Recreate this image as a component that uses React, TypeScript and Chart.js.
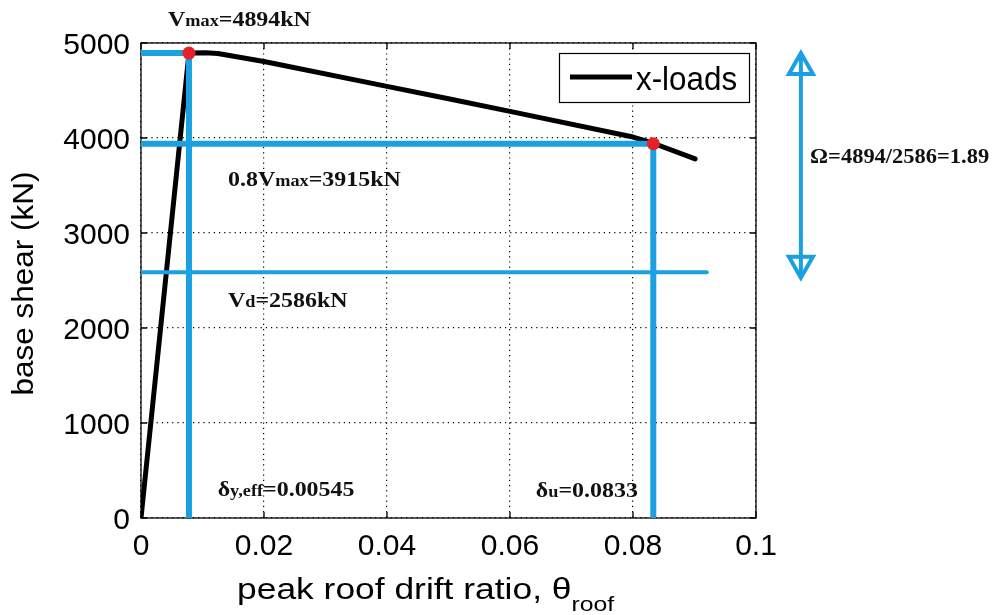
import React, { useEffect, useRef } from "react";
import { Chart, registerables } from "chart.js";

Chart.register(...registerables);

// ---- data ----
const driftX = [0, 0.0078, 0.0105, 0.0125, 0.02, 0.04, 0.05, 0.06, 0.08, 0.0833, 0.0901];
const shearY = [0, 4894, 4898, 4890, 4806, 4543, 4413, 4280, 4010, 3945, 3780];

const xTicks = [0, 0.02, 0.04, 0.06, 0.08, 0.1];
const yTicks = [0, 1000, 2000, 3000, 4000, 5000];

const vMax = 4894;
const v08 = 3940;
const vD = 2586;
const dyEff = 0.0078;
const dU = 0.0833;
const vdLineEnd = 0.092;

const markX = [dyEff, dU];
const markY = [vMax, v08];

const arrowX = [0.1073, 0.1073];
const arrowY = [4894, 2530];

const seriesLabel = "x-loads";

// annotation texts: [text, isSubscript]
const annoTexts: [string, boolean][][] = [
  [["V", false], ["max", true], ["=4894kN", false]],
  [["0.8V", false], ["max", true], ["=3915kN", false]],
  [["V", false], ["d", true], ["=2586kN", false]],
  [["δ", false], ["y,eff", true], ["=0.00545", false]],
  [["δ", false], ["u", true], ["=0.0833", false]],
  [["Ω=4894/2586=1.89", false]],
];
// anchor (left, baseline) in data units
const annoX = [0.0044, 0.01415, 0.01415, 0.01247, 0.0642, 0.1088];
const annoY = [5182, 3498, 2225, 227, 222, 3740];
const annoStretch = [1.14, 1.14, 1.14, 1.14, 1.14, 1.07];

const xTitleMain = "peak roof drift ratio, θ";
const xTitleSub = "roof";
const yTitle = "base shear (kN)";

const BLUE = "#1ba1e2";
const RED = "#e8202a";
const SANS = '"Liberation Sans", Arial, sans-serif';
const SERIF = '"Liberation Serif", "Times New Roman", serif';

function drawParts(ctx: CanvasRenderingContext2D, parts: { t: string; font: string; dy: number }[], x: number, y: number, sx: number) {
  ctx.save();
  ctx.translate(x, y);
  ctx.scale(sx, 1);
  ctx.textAlign = "left";
  ctx.textBaseline = "alphabetic";
  let cx = 0;
  for (const p of parts) {
    ctx.font = p.font;
    ctx.fillText(p.t, cx, p.dy);
    cx += ctx.measureText(p.t).width;
  }
  ctx.restore();
}

const decorPlugin = {
  id: "decor",
  beforeDatasetsDraw(chart: any) {
    const { ctx, chartArea: a, scales } = chart;
    ctx.save();
    ctx.strokeStyle = "#000";
    ctx.lineWidth = 1.3;
    ctx.setLineDash([]);
    ctx.strokeRect(a.left, a.top, a.right - a.left, a.bottom - a.top);
    const tl = 6;
    ctx.beginPath();
    for (const v of xTicks) {
      const px = scales.x.getPixelForValue(v);
      ctx.moveTo(px, a.bottom);
      ctx.lineTo(px, a.bottom - tl);
      ctx.moveTo(px, a.top);
      ctx.lineTo(px, a.top + tl);
    }
    for (const v of yTicks) {
      const py = scales.y.getPixelForValue(v);
      ctx.moveTo(a.left, py);
      ctx.lineTo(a.left + tl, py);
      ctx.moveTo(a.right, py);
      ctx.lineTo(a.right - tl, py);
    }
    ctx.stroke();
    ctx.restore();
  },
  afterDatasetsDraw(chart: any) {
    const { ctx, chartArea: a, scales } = chart;
    const xs = scales.x;
    const ys = scales.y;
    ctx.save();
    // annotations
    ctx.fillStyle = "#111";
    annoTexts.forEach((parts, i) => {
      const px = xs.getPixelForValue(annoX[i]);
      const py = ys.getPixelForValue(annoY[i]);
      drawParts(
        ctx,
        parts.map(([t, sub]) => ({ t, font: sub ? `bold 16px ${SERIF}` : `bold 21px ${SERIF}`, dy: 0 })),
        px,
        py,
        annoStretch[i]
      );
    });

    // double arrow
    const ax = xs.getPixelForValue(arrowX[0]);
    const ayTop = ys.getPixelForValue(arrowY[0]);
    const ayBot = ys.getPixelForValue(arrowY[1]);
    const hl = 21;
    const hw = 12;
    ctx.strokeStyle = BLUE;
    ctx.lineWidth = 4;
    ctx.lineJoin = "miter";
    ctx.beginPath();
    ctx.moveTo(ax, ayTop + 2);
    ctx.lineTo(ax, ayBot - 2);
    ctx.stroke();
    ctx.beginPath();
    ctx.moveTo(ax, ayTop);
    ctx.lineTo(ax - hw, ayTop + hl);
    ctx.lineTo(ax + hw, ayTop + hl);
    ctx.closePath();
    ctx.stroke();
    ctx.beginPath();
    ctx.moveTo(ax, ayBot);
    ctx.lineTo(ax - hw, ayBot - hl);
    ctx.lineTo(ax + hw, ayBot - hl);
    ctx.closePath();
    ctx.stroke();

    // legend
    const lw = 190;
    const lh = 49;
    const lx = a.right - 7 - lw;
    const ly = a.top + 10;
    ctx.fillStyle = "#fff";
    ctx.fillRect(lx, ly, lw, lh);
    ctx.strokeStyle = "#000";
    ctx.lineWidth = 1.2;
    ctx.strokeRect(lx + 0.5, ly + 0.5, lw, lh);
    ctx.lineWidth = 5;
    ctx.beginPath();
    ctx.moveTo(lx + 11, ly + 24);
    ctx.lineTo(lx + 73, ly + 24);
    ctx.stroke();
    ctx.fillStyle = "#000";
    drawParts(ctx, [{ t: seriesLabel, font: `33px ${SANS}`, dy: 0 }], lx + 77, ly + 37, 0.95);
    ctx.restore();
  },
  afterDraw(chart: any) {
    const { ctx, chartArea: a } = chart;
    ctx.save();
    ctx.fillStyle = "#000";
    // x title
    drawParts(
      ctx,
      [
        { t: xTitleMain, font: `30px ${SANS}`, dy: 0 },
        { t: xTitleSub, font: `21px ${SANS}`, dy: 12 },
      ],
      237,
      a.bottom + 81,
      1.18
    );
    // y title
    ctx.font = `30px ${SANS}`;
    const w = ctx.measureText(yTitle).width * 1.05;
    ctx.translate(33, (a.top + a.bottom) / 2 + 3);
    ctx.rotate(-Math.PI / 2);
    drawParts(ctx, [{ t: yTitle, font: `30px ${SANS}`, dy: 0 }], -w / 2, 0, 1.05);
    ctx.restore();
  },
};

export default function App() {
  const ref = useRef<HTMLCanvasElement | null>(null);
  useEffect(() => {
    if (!ref.current) return;
    const hLine = (y: number, x0: number, x1: number, w: number, label: string) => ({
      label,
      data: [
        { x: x0, y },
        { x: x1, y },
      ],
      showLine: true,
      borderColor: BLUE,
      borderWidth: w,
      pointRadius: 0,
      borderCapStyle: "round",
      order: 2,
    });
    const vLine = (x: number, y0: number, y1: number, w: number, label: string) => ({
      label,
      data: [
        { x, y: y0 },
        { x, y: y1 },
      ],
      showLine: true,
      borderColor: BLUE,
      borderWidth: w,
      pointRadius: 0,
      borderCapStyle: "round",
      order: 2,
    });
    const chart = new Chart(ref.current, {
      type: "scatter",
      data: {
        datasets: [
          {
            label: seriesLabel,
            data: driftX.map((x, i) => ({ x, y: shearY[i] })),
            showLine: true,
            borderColor: "#000",
            borderWidth: 5,
            pointRadius: 0,
            borderJoinStyle: "round",
            borderCapStyle: "round",
            order: 3,
          } as any,
          hLine(vMax, 0, dyEff, 6, "Vmax"),
          vLine(dyEff, 0, vMax, 6, "dy"),
          hLine(v08, 0, dU, 6, "0.8Vmax"),
          vLine(dU, 0, v08, 6, "du"),
          hLine(vD, 0, vdLineEnd, 4, "Vd"),
          {
            label: "marks",
            data: markX.map((x, i) => ({ x, y: markY[i] })),
            showLine: false,
            pointRadius: 6.5,
            pointBackgroundColor: RED,
            pointBorderWidth: 0,
            order: 1,
          } as any,
        ],
      },
      options: {
        responsive: false,
        animation: false,
        devicePixelRatio: 1,
        layout: { padding: { left: 0, top: 43, right: 247, bottom: 0 } },
        plugins: { legend: { display: false }, tooltip: { enabled: false }, title: { display: false } },
        scales: {
          x: {
            type: "linear",
            min: 0,
            max: 0.1,
            afterBuildTicks: (s: any) => {
              s.ticks = xTicks.map((v) => ({ value: v }));
            },
            ticks: {
              color: "#000",
              font: { family: SANS, size: 30 },
              padding: 11,
              maxRotation: 0,
              autoSkip: false,
              callback: (v: any) => String(+Number(v).toFixed(4)),
            },
            grid: { color: "#000", lineWidth: 1.2, drawTicks: false },
            border: { display: false, dash: [1.2, 4] },
            afterFit: (s: any) => {
              s.height = 97;
            },
          },
          y: {
            type: "linear",
            min: 0,
            max: 5000,
            afterBuildTicks: (s: any) => {
              s.ticks = yTicks.map((v) => ({ value: v }));
            },
            ticks: {
              color: "#000",
              font: { family: SANS, size: 30 },
              padding: 11,
              labelOffset: 3,
              autoSkip: false,
              callback: (v: any) => String(v),
            },
            grid: { color: "#000", lineWidth: 1.2, drawTicks: false },
            border: { display: false, dash: [1.2, 4] },
            afterFit: (s: any) => {
              s.width = 141;
            },
          },
        },
      } as any,
      plugins: [decorPlugin],
    });
    return () => chart.destroy();
  }, []);
  return (
    <div style={{ position: "fixed", left: 0, top: 0, width: 1003, height: 615, background: "#fff" }}>
      <canvas ref={ref} width={1003} height={615} style={{ display: "block" }} />
    </div>
  );
}
